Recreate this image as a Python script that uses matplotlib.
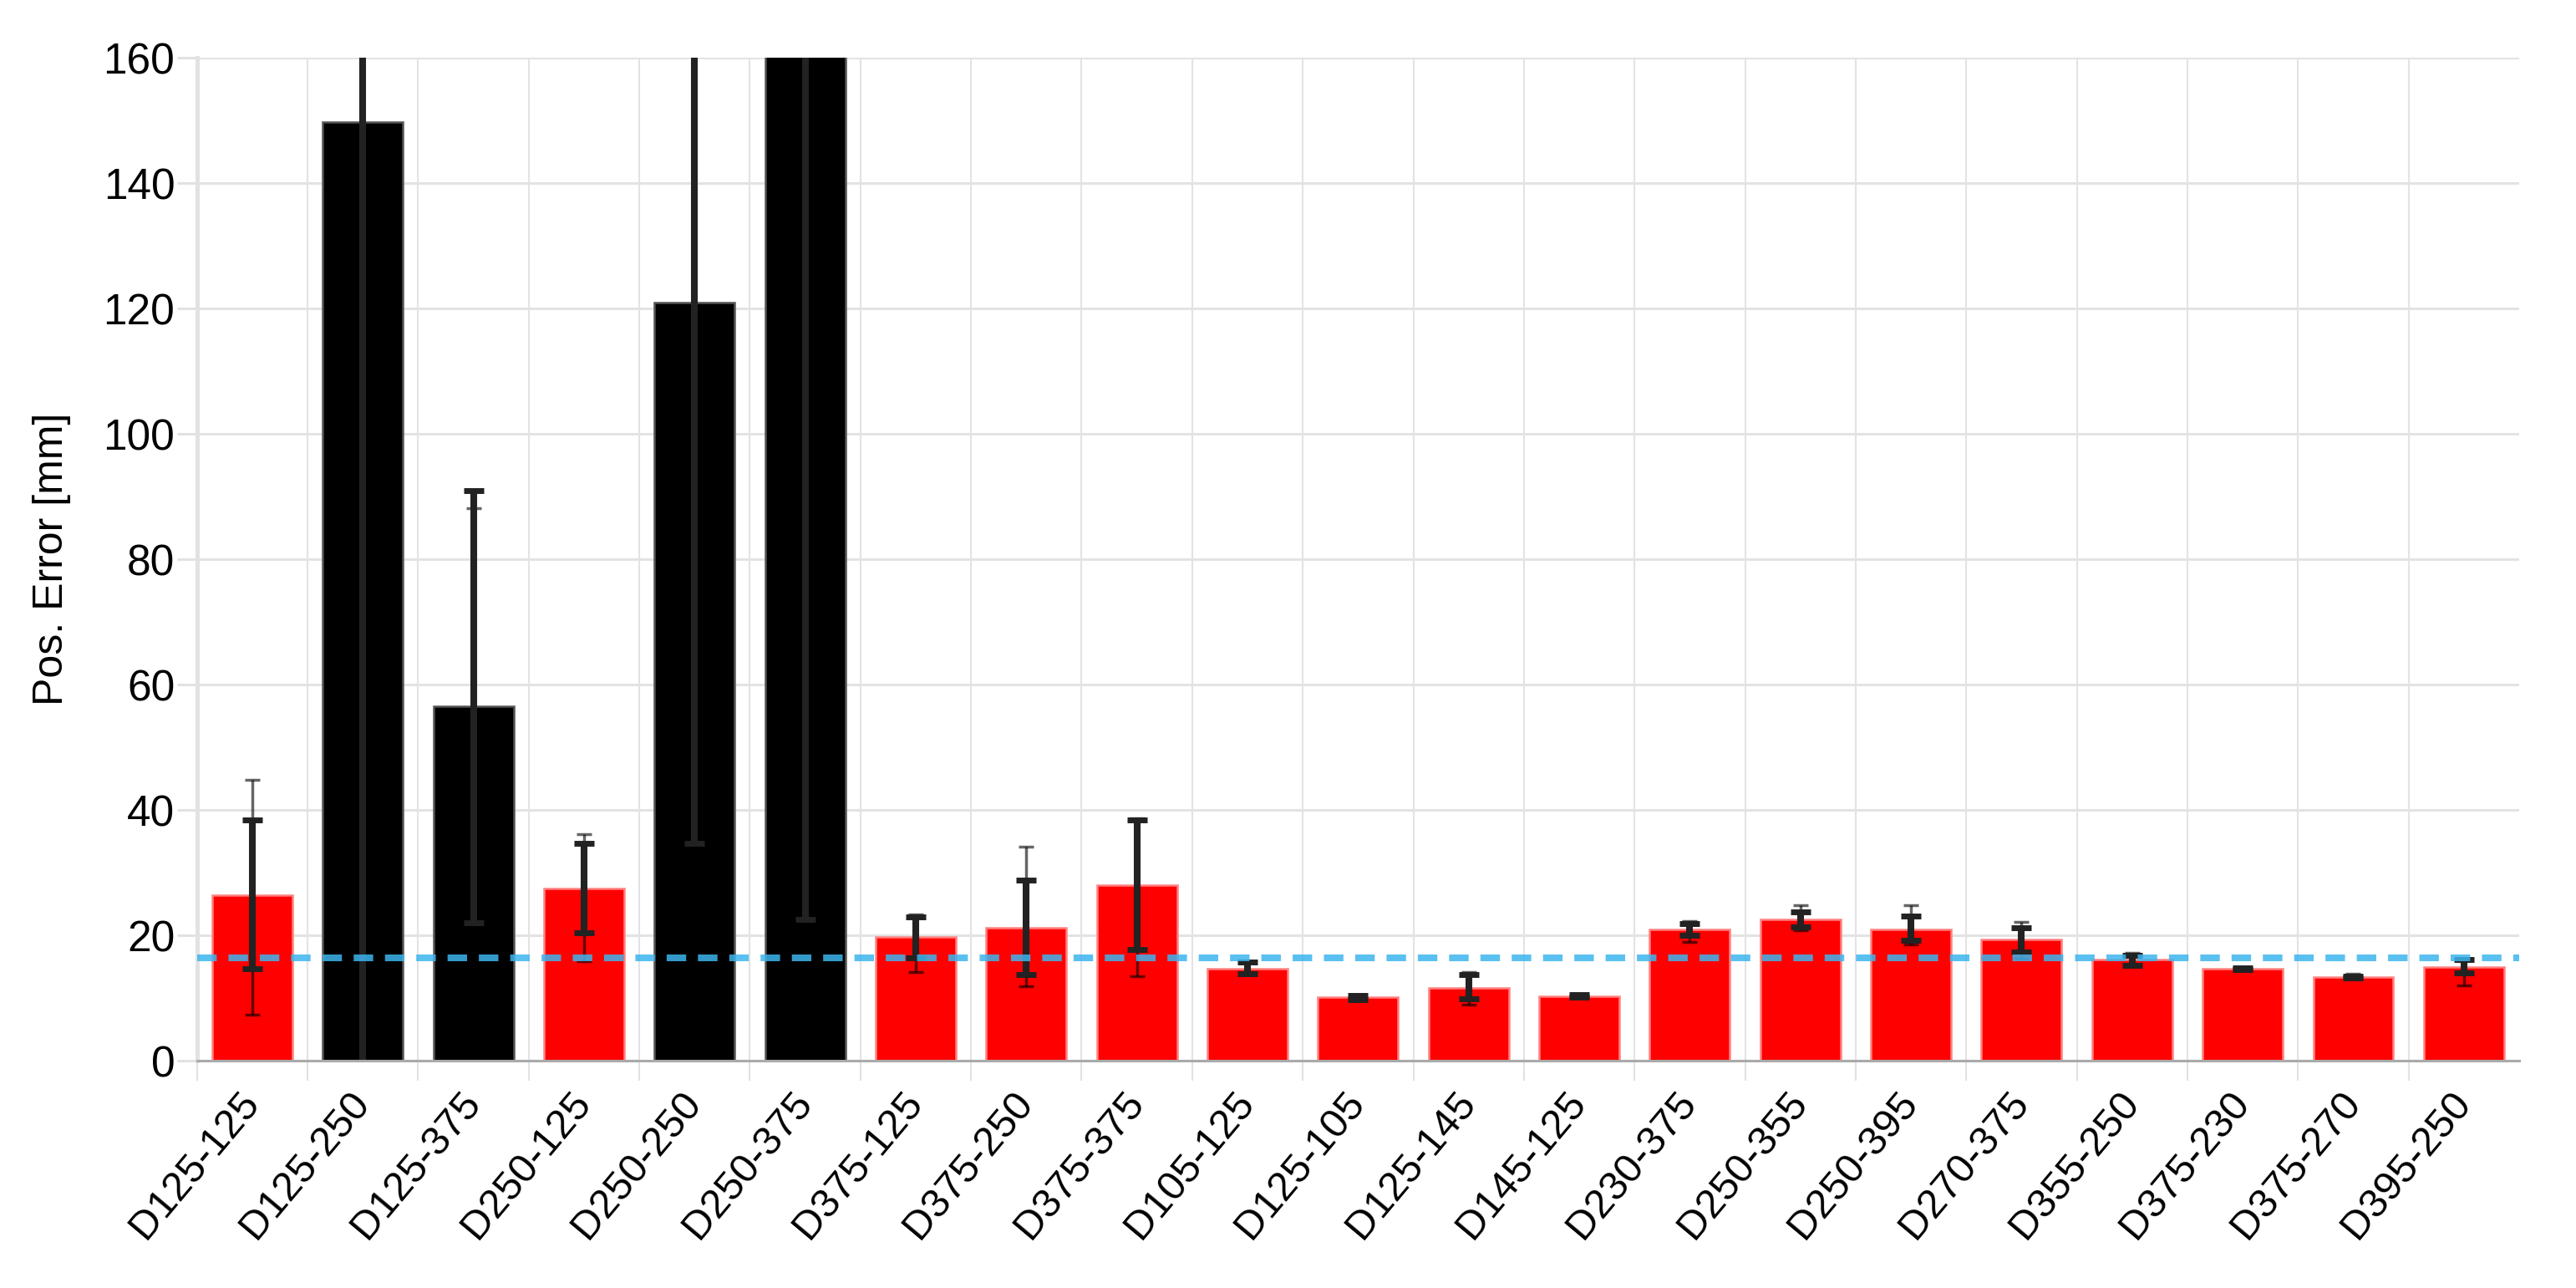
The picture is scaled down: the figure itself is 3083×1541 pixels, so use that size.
import matplotlib
matplotlib.use("Agg")
import matplotlib.pyplot as plt
import numpy as np

plt.rcParams['font.family'] = ['Liberation Sans', 'DejaVu Sans']

categories = ["D125-125", "D125-250", "D125-375", "D250-125", "D250-250", "D250-375",
              "D375-125", "D375-250", "D375-375", "D105-125", "D125-105", "D125-145",
              "D145-125", "D230-375", "D250-355", "D250-395", "D270-375", "D355-250",
              "D375-230", "D375-270", "D395-250"]
# 1 = highlighted (black) configuration, 0 = regular (red)
highlight = [0, 1, 1, 0, 1, 1, 0, 0, 0, 0, 0, 0, 0, 0, 0, 0, 0, 0, 0, 0, 0]
values = [26.4, 149.7, 56.5, 27.5, 120.9, 180.0, 19.7, 21.2, 28.0, 14.7, 10.1,
          11.6, 10.3, 21.0, 22.6, 21.0, 19.3, 16.1, 14.65, 13.4, 15.0]
# thick (dark) error bar: lower / upper ends
dark_low = [14.7, -5.3, 22.0, 20.4, 34.7, 22.6, 16.4, 13.7, 17.7, 13.9, 9.8,
            9.9, 10.1, 20.0, 21.3, 19.2, 17.4, 15.2, 14.5, 13.25, 14.0]
dark_high = [38.4, 304.7, 91.0, 34.7, 207.1, 337.4, 23.0, 28.8, 38.4, 15.7, 10.4,
             13.7, 10.5, 21.9, 23.8, 23.1, 21.2, 16.8, 14.8, 13.55, 16.1]
# thin (grey) error bar: lower / upper ends
thin_low = [7.3, 15.3, 10.1, 15.9, 24.7, 20.1, 14.1, 11.9, 13.5, 13.7, 9.7,
            9.0, 10.0, 19.0, 20.8, 18.6, 16.3, 15.1, 14.4, 13.2, 12.0]
thin_high = [44.8, 284.1, 88.1, 36.1, 217.1, 339.9, 23.4, 34.2, 38.7, 15.9, 10.6,
             14.2, 10.6, 22.3, 24.8, 24.8, 22.2, 17.2, 14.9, 13.9, 16.3]
reference_level = 16.4
yticks = [0, 20, 40, 60, 80, 100, 120, 140, 160]

W, H = 3083, 1541
fig = plt.figure(figsize=(W / 100, H / 100), dpi=100)
ax = fig.add_axes([235.7 / W, 1 - 1269.2 / H, (3015 - 235.7) / W, 1200 / H])

x = np.arange(len(categories))
vals = np.array(values)
fc = ['#000000' if h else '#ff0000' for h in highlight]
ec = ['#555555' if h else '#ff8080' for h in highlight]
ax.bar(x, vals, width=0.725, color=fc, edgecolor=ec, linewidth=1.8, zorder=2)

tl = np.array(thin_low); th = np.array(thin_high)
ax.errorbar(x, vals, yerr=[vals - tl, th - vals], fmt='none', ecolor='black',
            alpha=0.6, elinewidth=2.5, capsize=6.8, capthick=2.5, zorder=3)
dl = np.array(dark_low); dh = np.array(dark_high)
ax.errorbar(x, vals, yerr=[vals - dl, dh - vals], fmt='none', ecolor='#222222',
            elinewidth=5.8, capsize=8.6, capthick=5, zorder=4)

ax.axhline(reference_level, color='#3db5ee', alpha=0.85, linewidth=5.8,
           dashes=(2.9, 1.75), zorder=5)

ax.set_xlim(-0.5, len(categories) - 0.5)
ax.set_ylim(0, 160)
ax.set_yticks(yticks)
ax.set_yticklabels([str(t) for t in yticks], fontsize=37)
ax.set_xticks(x)
ax.set_xticklabels(categories, fontsize=35, rotation=50, ha='right', va='center',
                   rotation_mode='anchor')
ax.set_xticks(np.arange(-0.5, len(categories) - 1, 1.0), minor=True)
ax.tick_params(axis='x', which='major', length=0, pad=31)
ax.tick_params(axis='x', which='minor', length=17, width=1.5, color='#e2e2e2')
ax.tick_params(axis='y', length=17, width=2.2, color='#e2e2e2', pad=2)

ax.set_axisbelow(True)
ax.grid(axis='y', color='#e3e3e3', linewidth=2.2)
ax.grid(axis='x', which='minor', color='#e3e3e3', linewidth=1.5)
for s in ['top', 'right']:
    ax.spines[s].set_visible(False)
ax.spines['left'].set_color('#e2e2e2')
ax.spines['left'].set_linewidth(3.6)
ax.spines['bottom'].set_color('#aaaaaa')
ax.spines['bottom'].set_linewidth(2.2)
ax.spines['bottom'].set_zorder(6)

fig.text(62 / W, 1 - 669 / H, "Pos. Error [mm]", rotation=90, fontsize=36,
         ha='center', va='center')

fig.savefig("out.png", dpi=100, facecolor='white')
